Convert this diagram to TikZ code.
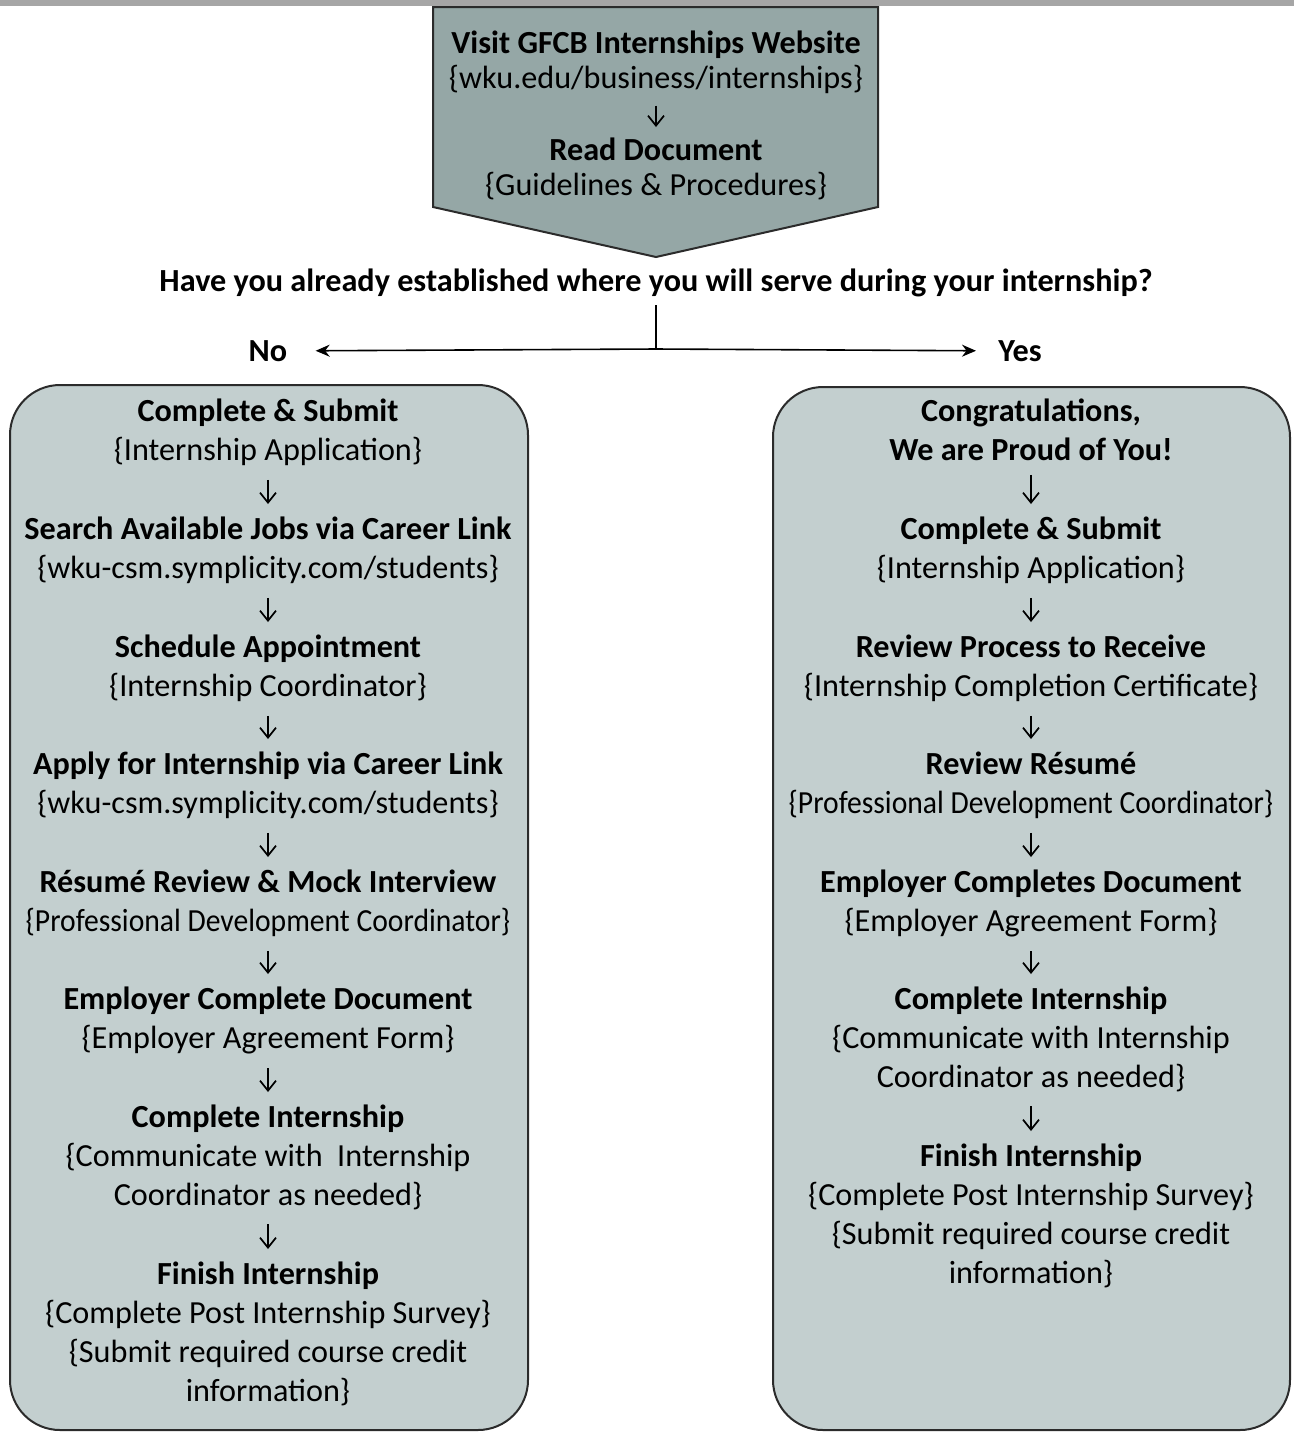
\documentclass[tikz,border=0pt]{standalone}
\usepackage{fontspec}
\usepackage{graphicx}
\setmainfont{Carlito}
\usetikzlibrary{arrows.meta}

\definecolor{barGray}{HTML}{A6A6A6}
\definecolor{headFill}{HTML}{95A7A6}
\definecolor{boxFill}{HTML}{C3CFCF}
\definecolor{edgeGray}{HTML}{2B2B2B}

% the long coordinator line is set condensed
\newcommand{\squeezed}[1]{\scalebox{0.92}[1]{#1}}

\tikzset{
  stepnode/.style={align=center, inner sep=0pt, anchor=north,
    font=\fontsize{16.1}{19.6}\selectfont},
  headnode/.style={stepnode, font=\fontsize{16.1}{17.5}\selectfont},
  panel/.style={draw=edgeGray, fill=boxFill, line width=1pt, rounded corners=25pt},
  downarrow/.style={-{Straight Barb[length=5pt, width=8pt]}, line width=0.85pt,
    shorten <=7pt, shorten >=6pt},
  choice/.style={-{Stealth[length=7pt, width=6pt]}, line width=0.8pt}
}

\begin{document}
\begin{tikzpicture}[x=0.5pt, y=-0.5pt]
\useasboundingbox (0,0) rectangle (1294,1432);
\fill[barGray] (0,0) rectangle (1294,6);

% header arrow shape
\draw[draw=edgeGray, fill=headFill, line width=1pt]
  (433,7) -- (878,7) -- (878,207) -- (656,257) -- (433,207) -- cycle;
\node (h1) [headnode] at (656,30) {\textbf{Visit GFCB Internships Website}\\\{wku.edu/business/internships\}};
\node (h2) [headnode] at (656,137) {\textbf{Read Document}\\\{Guidelines \& Procedures\}};
\draw[downarrow, shorten <=6pt, shorten >=5pt] (h1) -- (h2);

% question
\node (q) [stepnode, anchor=center] at (656,283) {\textbf{Have you already established where you will serve during your internship?}};
\coordinate (j) at (656,349);
\node (no) [stepnode, anchor=center] at (268,351) {\textbf{No}};
\node (yes) [stepnode, anchor=center] at (1020,351) {\textbf{Yes}};
\draw[line width=0.8pt] (656,305) -- (j);
\draw[choice, shorten >=14pt] (j) -- (no);
\draw[choice, shorten >=11pt] (j) -- (yes);

% panels
\draw[panel] (10,385) rectangle (528,1430);
\draw[panel] (773,387) rectangle (1290,1430);

% no branch
\node (n1) [stepnode] at (268,398) {\textbf{Complete \& Submit}\\\{Internship Application\}};
\node (n2) [stepnode] at (268,516) {\textbf{Search Available Jobs via Career Link}\\\{wku-csm.symplicity.com/students\}};
\node (n3) [stepnode] at (268,634) {\textbf{Schedule Appointment}\\\{Internship Coordinator\}};
\node (n4) [stepnode] at (268,751) {\textbf{Apply for Internship via Career Link}\\\{wku-csm.symplicity.com/students\}};
\node (n5) [stepnode] at (268,869) {\textbf{Résumé Review \& Mock Interview}\\\squeezed{\{Professional Development Coordinator\}}};
\node (n6) [stepnode] at (268,986) {\textbf{Employer Complete Document}\\\{Employer Agreement Form\}};
\node (n7) [stepnode] at (268,1104) {\textbf{Complete Internship}\\\{Communicate with \ Internship\\Coordinator as needed\}};
\node (n8) [stepnode] at (268,1261) {\textbf{Finish Internship}\\\{Complete Post Internship Survey\}\\\{Submit required course credit\\information\}};
\foreach \a/\b in {n1/n2, n2/n3, n3/n4, n4/n5, n5/n6, n6/n7, n7/n8}
  \draw[downarrow] (\a) -- (\b);

% yes branch
\node (y1) [stepnode] at (1031,398) {\textbf{Congratulations,}\\\textbf{We are Proud of You!}};
\node (y2) [stepnode] at (1031,516) {\textbf{Complete \& Submit}\\\{Internship Application\}};
\node (y3) [stepnode] at (1031,634) {\textbf{Review Process to Receive}\\\{Internship Completion Certificate\}};
\node (y4) [stepnode] at (1031,751) {\textbf{Review Résumé}\\\squeezed{\{Professional Development Coordinator\}}};
\node (y5) [stepnode] at (1031,869) {\textbf{Employer Completes Document}\\\{Employer Agreement Form\}};
\node (y6) [stepnode] at (1031,986) {\textbf{Complete Internship}\\\{Communicate with Internship\\Coordinator as needed\}};
\node (y7) [stepnode] at (1031,1143) {\textbf{Finish Internship}\\\{Complete Post Internship Survey\}\\\{Submit required course credit\\information\}};
\foreach \a/\b in {y1/y2, y2/y3, y3/y4, y4/y5, y5/y6, y6/y7}
  \draw[downarrow] (\a) -- (\b);
\end{tikzpicture}
\end{document}
